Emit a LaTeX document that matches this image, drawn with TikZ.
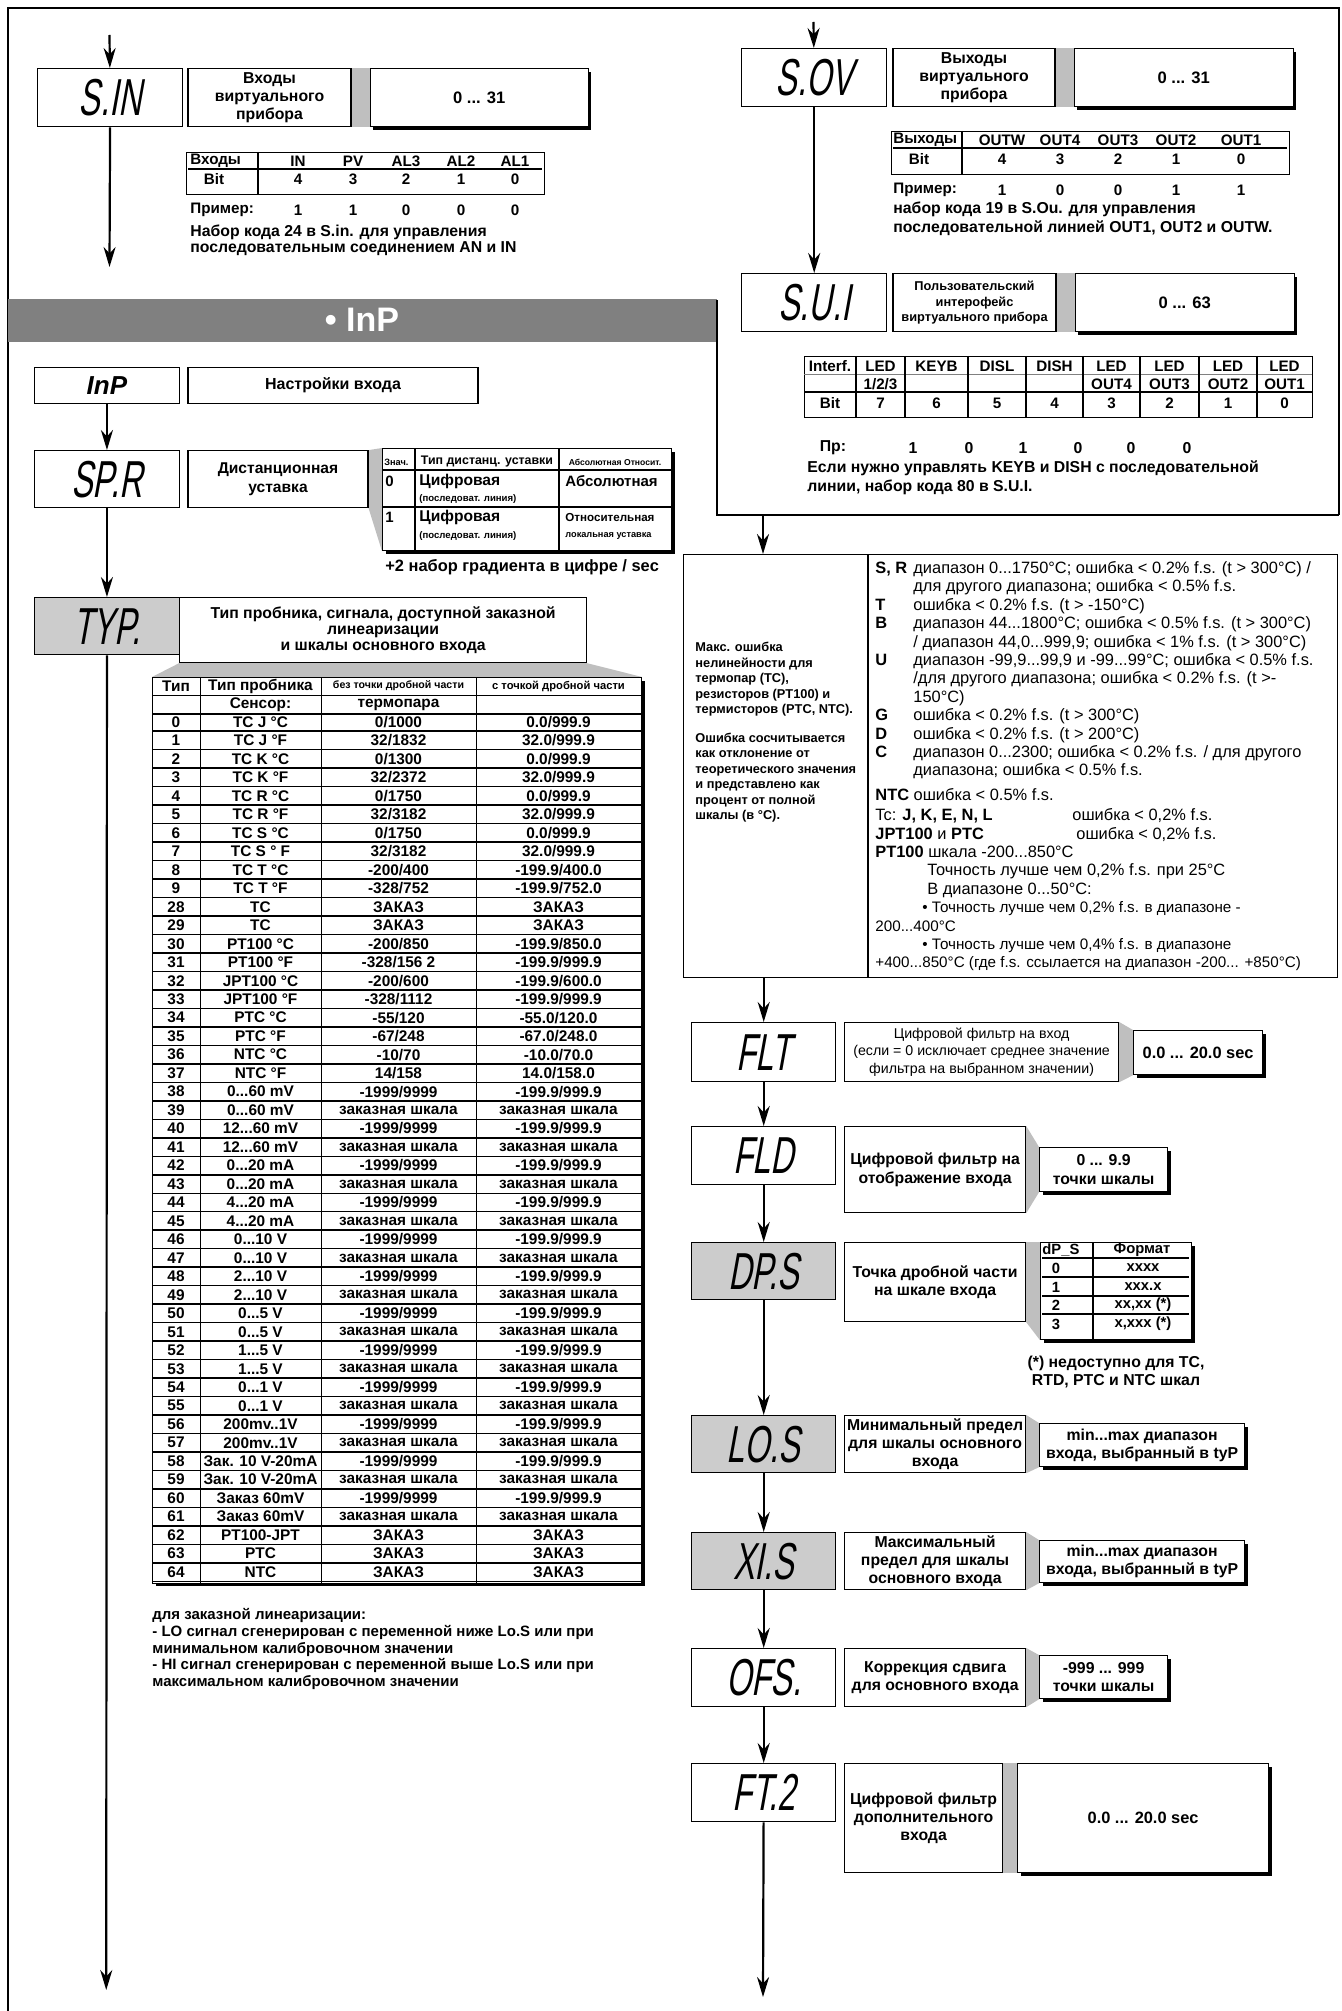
\documentclass[tikz,border=0pt]{standalone}
\usepackage{fontspec}
\setmainfont{Liberation Sans}
\newfontfamily\lcdfont[FakeStretch=0.62,FakeSlant=0.18]{Liberation Sans}
\usetikzlibrary{arrows.meta,shadows,backgrounds,positioning}
\definecolor{barGray}{gray}{0.5}
\definecolor{codeGray}{gray}{0.8}
\definecolor{stripGray}{gray}{0.75}
\newlength\px
\setlength\px{0.5pt}
\newcommand\fsz[2]{\fontsize{#1}{#2}\selectfont}
\newcommand\zsh{заказная шкала}
\newcommand\zak{ЗАКАЗ}
\newcommand\rnga{-1999/9999}
\newcommand\rngb{-199.9/999.9}
\newcommand\lbl[1]{\makebox[19pt][l]{\bfseries #1}}
\begin{document}
\begin{tikzpicture}[x=0.5pt, y=-0.5pt,
  every node/.style={inner sep=0pt, align=center, font=\bfseries\fsz{7.9}{9.2}},
  codebox/.style={draw, line width=0.7pt, anchor=north west, minimum width=145\px, font=\lcdfont\fsz{26}{26}},
  greybox/.style={codebox, fill=codeGray},
  descbox/.style={draw, line width=0.6pt, anchor=north west},
  valbox/.style={draw, line width=0.6pt, fill=white, anchor=north west,
    drop shadow={shadow xshift=1.6pt, shadow yshift=-1.6pt, opacity=1, fill=black}},
  tabbox/.style={draw, line width=0.7pt, anchor=north west},
  rule/.style={line width=0.6pt},
  cell/.style={font=\bfseries\fsz{7.7}{8}},
  link/.style={line width=1.1pt, -{Stealth[length=10pt, width=6pt]}},
  frame/.style={line width=1.3pt}
  ]
\useasboundingbox (0,0) rectangle (1341,2011);

% frame and section bar
\draw[frame] (8,2011) -- (8,8) -- (1339,8) -- (1339,515);
\fill[barGray] (8,299) rectangle (717,342);
\node[text=white, font=\bfseries\fsz{17}{17}] (inp-head) at (362,320) {\textbullet\ InP};
\draw[frame] (717,300) -- (717,515) -- (1339,515);

% S.IN
\node[codebox, minimum height=58\px] (sin) at (37,68) {S.IN};
\node[descbox, minimum width=163\px, minimum height=58\px, right=4\px of sin] (sin-d) {Входы\\виртуального\\прибора};
\node[valbox, minimum width=218\px, minimum height=58\px, right=18\px of sin-d, font=\bfseries\fsz{8.3}{9}] (sin-v) {0 ... 31};
\node[tabbox, minimum width=358\px, minimum height=42\px] (sin-t) at (186,152) {};
\draw[rule] (258,152) -- (258,194);
\draw[rule] (188,169) -- (542,169);
\node[anchor=west, font=\bfseries\fsz{7.6}{9}] (sin-h) at (190,161) {Входы};
\node[font=\bfseries\fsz{7.6}{9}] (sin-b) at (214,179) {Bit};
\node[anchor=west, font=\bfseries\fsz{7.6}{9}] (sin-e) at (190,210) {Пример:};
\foreach \cx/\nm/\bt/\ex [count=\k] in {298/IN/4/1, 353/PV/3/1, 406/AL3/2/0, 461/AL2/1/0, 515/AL1/0/0} {
  \node[font=\bfseries\fsz{7.6}{9}] (sin-h\k) at (\cx,161) {\nm};
  \node[font=\bfseries\fsz{7.6}{9}] (sin-b\k) at (\cx,179) {\bt};
  \node[font=\bfseries\fsz{7.6}{9}] (sin-e\k) at (\cx,210) {\ex};
}
\node[anchor=north west, align=left, font=\bfseries\fsz{7.9}{8}] (sin-n) at (190,225) {Набор кода 24 в S.in. для управления\\последовательным соединением AN и IN};

% S.OV
\node[codebox, minimum height=58\px] (sov) at (741,48) {S.OV};
\node[descbox, minimum width=162\px, minimum height=58\px, right=5\px of sov] (sov-d) {Выходы\\виртуального\\прибора};
\node[valbox, minimum width=219\px, minimum height=58\px, right=18\px of sov-d, font=\bfseries\fsz{8.3}{9}] (sov-v) {0 ... 31};
\node[tabbox, minimum width=398\px, minimum height=43\px] (sov-t) at (891,131) {};
\draw[rule] (962,131) -- (962,174);
\draw[rule] (893,148) -- (1287,148);
\node[anchor=west, font=\bfseries\fsz{7.6}{9}] (sov-h) at (893,140) {Выходы};
\node[font=\bfseries\fsz{7.6}{9}] (sov-b) at (919,159) {Bit};
\node[anchor=west, font=\bfseries\fsz{7.6}{9}] (sov-e) at (893,190) {Пример:};
\foreach \cx/\nm/\bt/\ex [count=\k] in {1002/OUTW/4/1, 1060/OUT4/3/0, 1118/OUT3/2/0, 1176/OUT2/1/1, 1241/OUT1/0/1} {
  \node[font=\bfseries\fsz{7.6}{9}] (sov-h\k) at (\cx,140) {\nm};
  \node[font=\bfseries\fsz{7.6}{9}] (sov-b\k) at (\cx,159) {\bt};
  \node[font=\bfseries\fsz{7.6}{9}] (sov-e\k) at (\cx,190) {\ex};
}
\node[anchor=north west, align=left, font=\bfseries\fsz{7.9}{9.5}] (sov-n) at (893,202) {набор кода 19 в S.Ou. для управления\\последовательной линией OUT1, OUT2 и OUTW.};

% S.U.I
\node[codebox, minimum height=58\px] (sui) at (741,273) {S.U.I};
\node[descbox, minimum width=163\px, minimum height=58\px, right=5\px of sui, font=\bfseries\fsz{6.4}{7.8}] (sui-d) {Пользовательский\\интерофейс\\виртуального прибора};
\node[valbox, minimum width=219\px, minimum height=58\px, right=18\px of sui-d, font=\bfseries\fsz{8.3}{9}] (sui-v) {0 ... 63};
\node[tabbox, minimum width=508\px, minimum height=61\px] (sui-t) at (804,356) {};
\draw[line width=0.3pt, gray] (804,374) -- (1312,374);
\draw[rule] (804,392) -- (1312,392);
\foreach \vx in {856,905,968,1026,1083,1140,1199,1257}
  \draw[rule] (\vx,356) -- (\vx,417);
\foreach \cx/\ra/\rb/\rc [count=\k] in {830/Interf./{}/Bit, 880.5/LED/{1/2/3}/7, 936.5/KEYB/{}/6, 997/DISL/{}/5, 1054.5/DISH/{}/4, 1111.5/LED/OUT4/3, 1169.5/LED/OUT3/2, 1228/LED/OUT2/1, 1284.5/LED/OUT1/0} {
  \node[font=\bfseries\fsz{7.6}{9}] (sui-a\k) at (\cx,366) {\ra};
  \node[font=\bfseries\fsz{7.6}{9}] (sui-b\k) at (\cx,384) {\rb};
  \node[font=\bfseries\fsz{7.6}{9}] (sui-c\k) at (\cx,403) {\rc};
}
\node (sui-e) at (833,448) {Пр:};
\foreach \cx/\ex [count=\k] in {913/1, 969/0, 1023/1, 1078/0, 1131/0, 1187/0}
  \node (sui-e\k) at (\cx,448) {\ex};
\node[anchor=north west, align=left, font=\bfseries\fsz{7.9}{9.7}] (sui-n) at (807,460) {Если нужно управлять KEYB и DISH с последовательной\\линии, набор кода 80 в S.U.I.};

% InP
\node[codebox, minimum width=145.5\px, minimum height=36\px, font=\bfseries\itshape\fsz{13}{13}] (inp) at (33.5,367) {InP};
\node[descbox, minimum width=290\px, minimum height=36\px, right=7\px of inp, font=\bfseries\fsz{8}{9}] (inp-d) {Настройки входа};

% SP.R
\node[codebox, minimum width=145.5\px, minimum height=57\px] (spr) at (33.5,450) {SP.R};
\node[descbox, minimum width=180\px, minimum height=57\px, right=7\px of spr, font=\bfseries\fsz{7.8}{9.4}] (spr-d) {Дистанционная\\уставка};
\node[valbox, minimum width=289\px, minimum height=102\px] (spr-t) at (382,448) {};
\draw[rule] (415,448) -- (415,550);
\draw[rule] (559,448) -- (559,550);
\draw[rule] (382,470) -- (671,470);
\draw[rule] (382,507) -- (671,507);
\node[anchor=west, font=\bfseries\fsz{4.6}{5}] (spr-h1) at (384,462) {Знач.};
\node[font=\bfseries\fsz{6.2}{7}] (spr-h2) at (487,462) {Тип дистанц. уставки};
\node[font=\bfseries\fsz{4.3}{5}] (spr-h3) at (615,462) {Абсолютная Относит.};
\node[anchor=west, font=\bfseries\fsz{7.5}{9}] (spr-a0) at (385,481) {0};
\node[anchor=west, font=\bfseries\fsz{7.8}{9}] (spr-b0) at (419,481) {Цифровая};
\node[anchor=west, font=\bfseries\fsz{4.8}{6}] (spr-c0) at (419,499) {(последоват. линия)};
\node[anchor=west, font=\bfseries\fsz{7.5}{9}] (spr-d0) at (565,481) {Абсолютная};
\node[anchor=west, font=\bfseries\fsz{7.5}{9}] (spr-a1) at (385,517) {1};
\node[anchor=west, font=\bfseries\fsz{7.8}{9}] (spr-b1) at (419,517) {Цифровая};
\node[anchor=west, font=\bfseries\fsz{4.8}{6}] (spr-c1) at (419,536) {(последоват. линия)};
\node[anchor=west, font=\bfseries\fsz{5.8}{6}] (spr-d1) at (565,518) {Относительная};
\node[anchor=west, font=\bfseries\fsz{4.6}{6}] (spr-e1) at (565,536) {локальная уставка};
\node[anchor=west, font=\bfseries\fsz{8.2}{9}] (spr-n) at (385,567) {+2 набор градиента в цифре / sec};

% TYP.
\node[greybox, minimum width=145.5\px, minimum height=57\px] (typ) at (33.5,597) {TYP.};
\node[descbox, fill=white, minimum width=407\px, minimum height=65\px, font=\bfseries\fsz{7.9}{8}] (typ-d) at (179,597) {Тип пробника, сигнала, доступной заказной\\линеаризации\\и шкалы основного входа};
\node[valbox, minimum width=489\px, minimum height=905.5\px] (typ-t) at (152,677) {};
\draw[line width=0.4pt] (152,695.5) -- (641,695.5);
\draw[line width=0.75pt] (152,714) -- (641,714);
\foreach \vx in {200,321,476}
  \draw[line width=0.5pt] (\vx,677) -- (\vx,1582.5);
\node[cell] (typ-h1) at (176,686) {Тип};
\node[cell] (typ-h2) at (260.5,686) {Тип пробника};
\node[font=\bfseries\fsz{5.3}{6}] (typ-h3) at (398.5,686) {без точки дробной части};
\node[font=\bfseries\fsz{5.6}{6}] (typ-h4) at (558.5,686) {с точкой дробной части};
\node[cell] (typ-h5) at (260.5,704.5) {Сенсор:};
\node[cell] (typ-h6) at (398.5,704.5) {термопара};
\foreach \ta/\tb/\tc/\td [count=\i from 0] in {
  0/{TC J °C}/{0/1000}/{0.0/999.9},
  1/{TC J °F}/{32/1832}/{32.0/999.9},
  2/{TC K °C}/{0/1300}/{0.0/999.9},
  3/{TC K °F}/{32/2372}/{32.0/999.9},
  4/{TC R °C}/{0/1750}/{0.0/999.9},
  5/{TC R °F}/{32/3182}/{32.0/999.9},
  6/{TC S °C}/{0/1750}/{0.0/999.9},
  7/{TC S ° F}/{32/3182}/{32.0/999.9},
  8/{TC T °C}/{-200/400}/{-199.9/400.0},
  9/{TC T °F}/{-328/752}/{-199.9/752.0},
  28/TC/{\zak}/{\zak},
  29/TC/{\zak}/{\zak},
  30/{PT100 °C}/{-200/850}/{-199.9/850.0},
  31/{PT100 °F}/{-328/156 2}/{\rngb},
  32/{JPT100 °C}/{-200/600}/{-199.9/600.0},
  33/{JPT100 °F}/{-328/1112}/{\rngb},
  34/{PTC °C}/{-55/120}/{-55.0/120.0},
  35/{PTC °F}/{-67/248}/{-67.0/248.0},
  36/{NTC °C}/{-10/70}/{-10.0/70.0},
  37/{NTC °F}/{14/158}/{14.0/158.0},
  38/{0...60 mV}/{\rnga}/{\rngb},
  39/{0...60 mV}/{\zsh}/{\zsh},
  40/{12...60 mV}/{\rnga}/{\rngb},
  41/{12...60 mV}/{\zsh}/{\zsh},
  42/{0...20 mA}/{\rnga}/{\rngb},
  43/{0...20 mA}/{\zsh}/{\zsh},
  44/{4...20 mA}/{\rnga}/{\rngb},
  45/{4...20 mA}/{\zsh}/{\zsh},
  46/{0...10 V}/{\rnga}/{\rngb},
  47/{0...10 V}/{\zsh}/{\zsh},
  48/{2...10 V}/{\rnga}/{\rngb},
  49/{2...10 V}/{\zsh}/{\zsh},
  50/{0...5 V}/{\rnga}/{\rngb},
  51/{0...5 V}/{\zsh}/{\zsh},
  52/{1...5 V}/{\rnga}/{\rngb},
  53/{1...5 V}/{\zsh}/{\zsh},
  54/{0...1 V}/{\rnga}/{\rngb},
  55/{0...1 V}/{\zsh}/{\zsh},
  56/{200mv..1V}/{\rnga}/{\rngb},
  57/{200mv..1V}/{\zsh}/{\zsh},
  58/{Зак. 10 V-20mA}/{\rnga}/{\rngb},
  59/{Зак. 10 V-20mA}/{\zsh}/{\zsh},
  60/{Заказ 60mV}/{\rnga}/{\rngb},
  61/{Заказ 60mV}/{\zsh}/{\zsh},
  62/PT100-JPT/{\zak}/{\zak},
  63/PTC/{\zak}/{\zak},
  64/NTC/{\zak}/{\zak}} {
  \pgfmathsetmacro\yc{722+18.48*\i}
  \node[cell] (typ-a\i) at (176,\yc) {\ta};
  \node[cell] (typ-b\i) at (260.5,\yc) {\tb};
  \node[cell] (typ-c\i) at (398.5,\yc) {\tc};
  \node[cell] (typ-e\i) at (558.5,\yc) {\td};
  \draw[line width=0.75pt] (152,{\yc+9.24}) -- (641,{\yc+9.24});
}
\node[anchor=north west, align=left, font=\bfseries\fsz{7.5}{8.4}] (typ-n) at (152,1608) {для заказной линеаризации:\\- LO сигнал сгенерирован с переменной ниже Lo.S или при\\минимальном калибровочном значении\\- HI сигнал сгенерирован с переменной выше Lo.S или при\\максимальном калибровочном значении};

% error notes
\node[descbox, minimum width=654\px, minimum height=423\px] (err) at (683,554) {};
\draw[rule] (868,554) -- (868,977);
\node[anchor=north west, align=left, font=\bfseries\fsz{6.4}{7.75}] (err-l) at (695,642) {Макс. ошибка\\нелинейности для\\термопар (TC),\\резисторов (PT100) и\\термисторов (PTC, NTC).\\[6.5pt]Ошибка сосчитывается\\как отклонение от\\теоретического значения\\и представлено как\\процент от полной\\шкалы (в °C).};
\node[anchor=north west, align=left, font=\fsz{8.2}{9.2}] (err-r) at (875,561) {%
\lbl{S, R}диапазон 0...1750°C; ошибка < 0.2\% f.s. (t > 300°C) /\\
\lbl{}для другого диапазона; ошибка < 0.5\% f.s.\\
\lbl{T}ошибка < 0.2\% f.s. (t > -150°C)\\
\lbl{B}диапазон 44...1800°C; ошибка < 0.5\% f.s. (t > 300°C)\\
\lbl{}/ диапазон 44,0...999,9; ошибка < 1\% f.s. (t > 300°C)\\
\lbl{U}диапазон -99,9...99,9 и -99...99°C; ошибка < 0.5\% f.s.\\
\lbl{}/для другого диапазона; ошибка < 0.2\% f.s. (t >-\\
\lbl{}150°C)\\
\lbl{G}ошибка < 0.2\% f.s. (t > 300°C)\\
\lbl{D}ошибка < 0.2\% f.s. (t > 200°C)\\
\lbl{C}диапазон 0...2300; ошибка < 0.2\% f.s. / для другого\\
\lbl{}диапазона; ошибка < 0.5\% f.s.\\[3pt]
{\bfseries NTC} ошибка < 0.5\% f.s.\\[1pt]
\makebox[98.5pt][l]{Tc: \bfseries J, K, E, N, L}ошибка < 0,2\% f.s.\\
\makebox[100.5pt][l]{\bfseries JPT100 \mdseries и \bfseries PTC}ошибка < 0,2\% f.s.\\
{\bfseries PT100} шкала -200...850°C\\
\hspace*{26pt}Точность лучше чем 0,2\% f.s. при 25°C\\
\hspace*{26pt}В диапазоне 0...50°C:\\
{\fsz{7.6}{9.2}\hspace*{23.5pt}\textbullet\ Точность лучше чем 0,2\% f.s. в диапазоне -}\\
{\fsz{7.6}{9.2}200...400°C}\\
{\fsz{7.6}{9.2}\hspace*{23.5pt}\textbullet\ Точность лучше чем 0,4\% f.s. в диапазоне}\\
{\fsz{7.6}{9.2}+400...850°C (где f.s. ссылается на диапазон -200... +850°C)}};

% right chain
\node[codebox, minimum width=144\px, minimum height=59\px] (flt) at (691,1022) {FLT};
\node[descbox, minimum width=274\px, minimum height=59\px, font=\fsz{7.1}{8.7}] (flt-d) at (844,1022) {Цифровой фильтр на вход\\(если = 0 исключает среднее значение\\фильтра на выбранном значении)};
\node[valbox, minimum width=129\px, minimum height=44\px, font=\bfseries\fsz{8.2}{9}] (flt-v) at (1133,1030) {0.0 ... 20.0 sec};

\node[codebox, minimum width=144\px, minimum height=58\px] (fld) at (691,1126) {FLD};
\node[descbox, minimum width=181\px, minimum height=86\px] (fld-d) at (844,1126) {Цифровой фильтр на\\отображение входа};
\node[valbox, minimum width=128\px, minimum height=44\px] (fld-v) at (1039,1147) {0 ... 9.9\\точки шкалы};

\node[greybox, minimum width=144\px, minimum height=57\px] (dps) at (691,1242) {DP.S};
\node[descbox, minimum width=181\px, minimum height=79\px] (dps-d) at (844,1242) {Точка дробной части\\на шкале входа};
\node[valbox, minimum width=151\px, minimum height=97\px] (dps-v) at (1040,1242) {};
\draw[rule] (1093,1242) -- (1093,1339);
\foreach \ly in {1258,1277,1296,1314}
  \draw[rule] (1042,\ly) -- (1189,\ly);
\node[anchor=west, font=\bfseries\fsz{7.4}{8}] (dps-h1) at (1042,1250) {dP\_S};
\node[font=\bfseries\fsz{7.4}{8}] (dps-h2) at (1142,1250) {Формат};
\foreach \vy/\va/\vb [count=\k] in {1268/0/xxxx, 1287/1/xxx.x, 1305/2/{xx,xx (*)}, 1324/3/{x,xxx (*)}} {
  \node[font=\bfseries\fsz{7.4}{8}] (dps-a\k) at (1056,\vy) {\va};
  \node[font=\bfseries\fsz{7.4}{8}] (dps-b\k) at (1143,\vy) {\vb};
}
\node[font=\bfseries\fsz{7.9}{9}] (dps-n) at (1116,1372) {(*) недоступно для TC,\\RTD, PTC и NTC шкал};

\node[greybox, minimum width=144\px, minimum height=57\px] (los) at (691,1415) {LO.S};
\node[descbox, minimum width=181\px, minimum height=57\px] (los-d) at (844,1415) {Минимальный предел\\для шкалы основного\\входа};
\node[valbox, minimum width=205\px, minimum height=43\px] (los-v) at (1039,1423) {min...max диапазон\\входа, выбранный в tyP};

\node[greybox, minimum width=144\px, minimum height=57\px] (xis) at (691,1532) {XI.S};
\node[descbox, minimum width=181\px, minimum height=57\px] (xis-d) at (844,1532) {Максимальный\\предел для шкалы\\основного входа};
\node[valbox, minimum width=205\px, minimum height=42\px] (xis-v) at (1039,1540) {min...max диапазон\\входа, выбранный в tyP};

\node[codebox, minimum width=144\px, minimum height=58\px] (ofs) at (691,1648) {OFS.};
\node[descbox, minimum width=181\px, minimum height=58\px] (ofs-d) at (844,1648) {Коррекция сдвига\\для основного входа};
\node[valbox, minimum width=128\px, minimum height=43\px] (ofs-v) at (1039,1655) {-999 ... 999\\точки шкалы};

\node[codebox, minimum width=144\px, minimum height=58\px] (ftt) at (691,1763) {FT.2};
\node[descbox, minimum width=158\px, minimum height=109\px] (ftt-d) at (844,1763) {Цифровой фильтр\\дополнительного\\входа};
\node[valbox, minimum width=251\px, minimum height=109\px, font=\bfseries\fsz{8.2}{9}] (ftt-v) at (1017,1763) {0.0 ... 20.0 sec};

% grey joints
\begin{scope}[on background layer]
  \fill[stripGray] (sin-d.north east) rectangle (sin-v.south west);
  \fill[stripGray] (sov-d.north east) rectangle (sov-v.south west);
  \fill[stripGray] (sui-d.north east) rectangle (sui-v.south west);
  \fill[stripGray] (ftt-d.north east) rectangle (ftt-v.south west);
  \fill[stripGray] (spr-d.north east) -- (spr-t.north west) -- (spr-t.south west) -- (spr-d.south east) -- cycle;
  \fill[stripGray] (typ-d.south west) -- (typ-d.south east) -- (typ-t.north east) -- (typ-t.north west) -- cycle;
  \foreach \p in {flt,fld,dps,los,xis,ofs}
    \fill[stripGray] (\p-d.north east) -- (\p-v.north west) -- (\p-v.south west) -- (\p-d.south east) -- cycle;
\end{scope}

% connectors
\coordinate (sin-in) at (109.5,35);
\coordinate (sin-out) at (109.5,267);
\coordinate (sov-in) at (813.5,22);
\coordinate (err-in) at (763,515);
\coordinate (typ-out) at (106.25,1990);
\coordinate (ftt-out) at (763,1997);
\draw[link] (sin-in) -- (sin);
\draw[link] (sin) -- (sin-out);
\draw[link] (sov-in) -- (sov);
\draw[link] (sov) -- (sui);
\draw[link] (inp) -- (spr);
\draw[link] (spr) -- (typ);
\draw[link] (typ) -- (typ-out);
\draw[link] (err-in) -- (err-in |- err.north);
\draw[link] (err.south -| flt.north) -- (flt);
\draw[link] (flt) -- (fld);
\draw[link] (fld) -- (dps);
\draw[link] (dps) -- (los);
\draw[link] (los) -- (xis);
\draw[link] (xis) -- (ofs);
\draw[link] (ofs) -- (ftt);
\draw[link] (ftt) -- (ftt-out);
\end{tikzpicture}
\end{document}
